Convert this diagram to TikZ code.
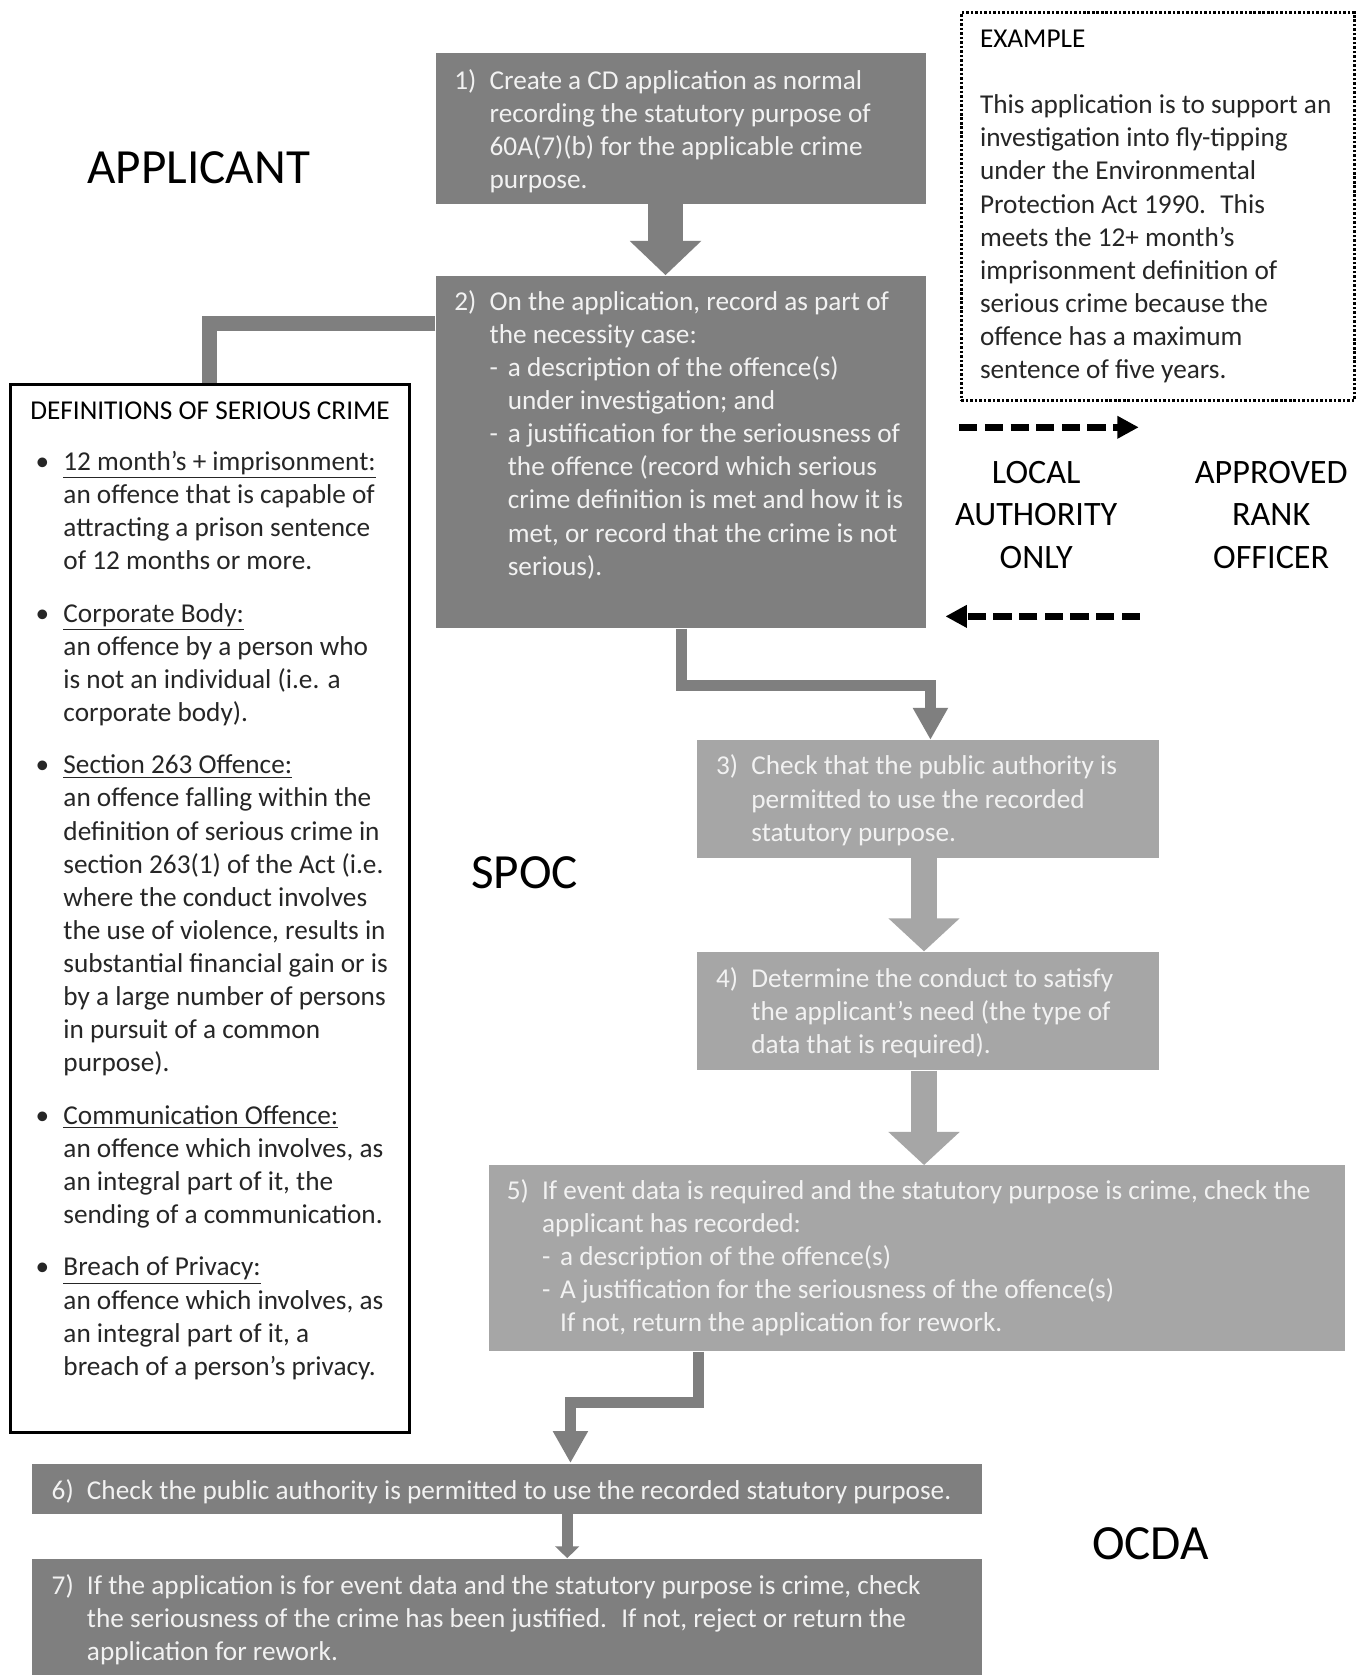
\documentclass[tikz,border=0pt]{standalone}
\usepackage{fontspec}
\setmainfont{Carlito}
\usetikzlibrary{arrows.meta,fit}
\definecolor{boxdark}{HTML}{7F7F7F}
\definecolor{boxlight}{HTML}{A6A6A6}
\definecolor{boxtxt}{HTML}{F2F2F2}
\definecolor{bodytxt}{HTML}{262626}
\newcommand\bodyfont{\fontsize{12.75pt}{15.5pt}\selectfont}
\newcommand\bigfont{\fontsize{23pt}{27pt}\selectfont}
\newcommand\midfont{\fontsize{16pt}{19.75pt}\selectfont}
\newcommand\ind{\hspace*{16.5pt}}
\newcommand\indd{\hspace*{25pt}}
\newcommand\stepno[1]{\rule{0pt}{11pt}\makebox[16.5pt][l]{#1}}
\newcommand\dashitem{\makebox[8.5pt][l]{-}}
\newcommand\bul{\hspace*{2.5pt}\makebox[13pt][l]{\textbullet}}
\newcommand\bind{\hspace*{15.5pt}}
\newcommand\topstrut{\rule{0pt}{11pt}}
\begin{document}
\begin{tikzpicture}[x=0.5pt,y=-0.5pt,
  darkbox/.style={fill=boxdark,draw=none,inner sep=0pt},
  lightbox/.style={fill=boxlight,draw=none,inner sep=0pt},
  boxtext/.style={text=boxtxt,align=left,inner sep=0pt,anchor=north west,font=\bodyfont},
  plaintext/.style={text=bodytxt,align=left,inner sep=0pt,anchor=north west,font=\bodyfont},
  heading/.style={text=black,inner sep=0pt,font=\bigfont},
  rolelabel/.style={text=black,align=center,inner sep=0pt,font=\midfont},
  bigarrowdark/.style={draw=boxdark,line width=16pt,-{Triangle[width=32.5pt,length=16pt]}},
  bigarrowlight/.style={draw=boxlight,line width=12pt,-{Triangle[width=32.5pt,length=15.5pt]}},
  elbow/.style={draw=boxdark,line width=5pt,line join=miter,-{Triangle[width=15.5pt,length=15pt]}},
  thinarrow/.style={draw=boxdark,line width=5pt,-{Triangle[width=11pt,length=5.5pt]}},
  link/.style={draw=boxdark,line width=7.25pt,line join=miter},
  dasharrow/.style={draw=black,line width=3pt,dash pattern=on 8.5pt off 3.5pt,-{Triangle[width=10pt,length=10pt]}},
  dotbox/.style={draw=black,line width=1.5pt,dash pattern=on 1.2pt off 0.9pt,inner sep=0pt},
  defbox/.style={draw=black,line width=1.3pt,inner sep=0pt}]
\useasboundingbox (0,0) rectangle (1280,1568);
\fill[white] (0,0) rectangle (1280,1568);

% boxes
\node[darkbox,fit={(408,50) (867,191)}] (b1) {};
\node[darkbox,fit={(408,258) (867,588)}] (b2) {};
\node[lightbox,fit={(652,693) (1085,803)}] (b3) {};
\node[lightbox,fit={(652,891) (1085,1002)}] (b4) {};
\node[lightbox,fit={(458,1091) (1259,1265)}] (b5) {};
\node[darkbox,fit={(30,1370) (919,1417)}] (b6) {};
\node[darkbox,fit={(30,1459) (919,1568)}] (b7) {};
\node[defbox,fit={(10,360) (383,1341)}] (defs) {};
\node[dotbox,fit={(900,12) (1268,375)}] (ex) {};

% connectors
\coordinate (l1) at (196,303);
\draw[link] (b2.west |- l1) -- (l1) -- (defs.north -| l1);
\coordinate (ax1) at (623,0);
\draw[bigarrowdark] (b1.south -| ax1) -- (b2.north -| ax1);
\coordinate (e1) at (638,642);
\coordinate (e2) at (871,642);
\draw[elbow] (b2.south -| e1) -- (e1) -- (e2) -- (b3.north -| e2);
\coordinate (ax2) at (865,0);
\draw[bigarrowlight] (b3.south -| ax2) -- (b4.north -| ax2);
\draw[bigarrowlight] (b4.south -| ax2) -- (b5.north -| ax2);
\coordinate (e3) at (654,1313);
\coordinate (e4) at (534,1313);
\draw[elbow] (b5.south -| e3) -- (e3) -- (e4) -- (b6.north -| e4);
\coordinate (ax3) at (531,0);
\draw[thinarrow] (b6.south -| ax3) -- (b7.north -| ax3);

\coordinate (dr1) at (898,400);
\coordinate (dr2) at (1066,400);
\draw[dasharrow] (dr1) -- (dr2);
\coordinate (dl1) at (1067,577);
\coordinate (dl2) at (885,577);
\draw[dasharrow] (dl1) -- (dl2);

% texts
\node[boxtext] (t1) at (425,61) {\stepno{1)}Create a CD application as normal\\
\ind recording the statutory purpose of\\
\ind 60A(7)(b) for the applicable crime\\
\ind purpose.};
\node[boxtext] (t2) at (425,268) {\stepno{2)}On the application, record as part of\\
\ind the necessity case:\\
\ind\dashitem a description of the offence(s)\\
\indd under investigation; and\\
\ind\dashitem a justification for the seriousness of\\
\indd the offence (record which serious\\
\indd crime definition is met and how it is\\
\indd met, or record that the crime is not\\
\indd serious).};
\node[boxtext] (t3) at (670,703) {\stepno{3)}Check that the public authority is\\
\ind permitted to use the recorded\\
\ind statutory purpose.};
\node[boxtext] (t4) at (670,902) {\stepno{4)}Determine the conduct to satisfy\\
\ind the applicant’s need (the type of\\
\ind data that is required).};
\node[boxtext] (t5) at (474,1100) {\stepno{5)}If event data is required and the statutory purpose is crime, check the\\
\ind applicant has recorded:\\
\ind\dashitem a description of the offence(s)\\
\ind\dashitem A justification for the seriousness of the offence(s)\\
\indd If not, return the application for rework.};
\node[boxtext] (t6) at (48,1381) {\stepno{6)}Check the public authority is permitted to use the recorded statutory purpose.};
\node[boxtext] (t7) at (48,1470) {\stepno{7)}If the application is for event data and the statutory purpose is crime, check\\
\ind the seriousness of the crime has been justified.~ If not, reject or return the\\
\ind application for rework.};

\node[plaintext] (extext) at (917,22) {\topstrut{\color{black}EXAMPLE}\\[15.5pt]
This application is to support an\\
investigation into fly-tipping\\
under the Environmental\\
Protection Act 1990.~ This\\
meets the 12+ month’s\\
imprisonment definition of\\
serious crime because the\\
offence has a maximum\\
sentence of five years.};

\node[plaintext] (deftext) at (28,370) {\topstrut{\color{black}DEFINITIONS OF SERIOUS CRIME}\\[8.5pt]
\bul\underline{12 month’s + imprisonment:}\\
\bind an offence that is capable of\\
\bind attracting a prison sentence\\
\bind of 12 months or more.\\[9pt]
\bul\underline{Corporate Body:}\\
\bind an offence by a person who\\
\bind is not an individual (i.e. a\\
\bind corporate body).\\[9pt]
\bul\underline{Section 263 Offence:}\\
\bind an offence falling within the\\
\bind definition of serious crime in\\
\bind section 263(1) of the Act (i.e.\\
\bind where the conduct involves\\
\bind the use of violence, results in\\
\bind substantial financial gain or is\\
\bind by a large number of persons\\
\bind in pursuit of a common\\
\bind purpose).\\[9pt]
\bul\underline{Communication Offence:}\\
\bind an offence which involves, as\\
\bind an integral part of it, the\\
\bind sending of a communication.\\[9pt]
\bul\underline{Breach of Privacy:}\\
\bind an offence which involves, as\\
\bind an integral part of it, a\\
\bind breach of a person’s privacy.};

\node[heading] (app) at (186,157) {APPLICANT};
\node[heading] (spoc) at (491,817) {SPOC};
\node[heading] (ocda) at (1077,1445) {OCDA};
\node[rolelabel] (la) at (970,482) {LOCAL\\AUTHORITY\\ONLY};
\node[rolelabel] (aro) at (1190,482) {APPROVED\\RANK\\OFFICER};
\end{tikzpicture}
\end{document}
